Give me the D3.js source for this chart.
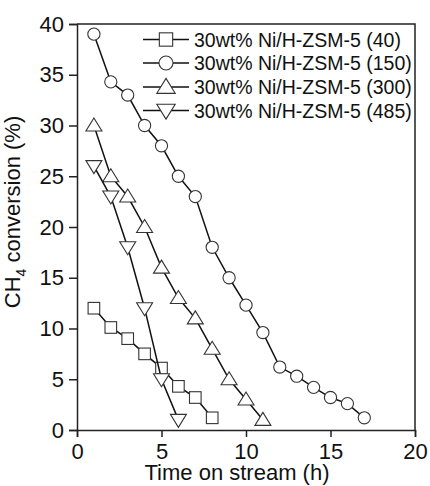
<!DOCTYPE html>
<html><head><meta charset="utf-8">
<script src="https://cdn.jsdelivr.net/npm/d3@7"></script>
<style>body{margin:0;background:#fff}svg{display:block}text{font-family:"Liberation Sans",Arial,sans-serif;fill:#111}</style>
</head><body>
<script>
const hours40 = [1,2,3,4,5,6,7,8];
const conv40 = [12.0,10.1,9.0,7.5,6.1,4.3,3.2,1.2];
const hours150 = [1,2,3,4,5,6,7,8,9,10,11,12,13,14,15,16,17];
const conv150 = [39.0,34.3,33.0,30.0,28.0,25.0,23.0,18.0,15.0,12.3,9.6,6.2,5.3,4.2,3.2,2.6,1.2];
const hours300 = [1,2,3,4,5,6,7,8,9,10,11];
const conv300 = [30.0,25.0,23.0,20.0,16.0,13.0,11.0,8.0,5.0,3.0,1.0];
const hours485 = [1,2,3,4,5,6];
const conv485 = [26.0,23.0,18.0,12.0,5.0,1.0];
const seriesNames = ["30wt% Ni/H-ZSM-5 (40)","30wt% Ni/H-ZSM-5 (150)","30wt% Ni/H-ZSM-5 (300)","30wt% Ni/H-ZSM-5 (485)"];
const xTicks = [0,5,10,15,20];
const yTicks = [0,5,10,15,20,25,30,35,40];

const W=430,H=486;
const m={l:77,r:15,t:24,b:56};
const svg=d3.select("body").append("svg").attr("width",W).attr("height",H);
const x=d3.scaleLinear().domain([0,20]).range([m.l,W-m.r]);
const y=d3.scaleLinear().domain([0,40]).range([H-m.b,m.t]);

const series=[
 {name:seriesNames[0],xs:hours40,ys:conv40,shape:"square"},
 {name:seriesNames[1],xs:hours150,ys:conv150,shape:"circle"},
 {name:seriesNames[2],xs:hours300,ys:conv300,shape:"up"},
 {name:seriesNames[3],xs:hours485,ys:conv485,shape:"down"}
];

svg.append("path").attr("d",`M${x(0)},${y(40)}H${x(20)}V${y(0)}`).attr("fill","none").attr("stroke","#222").attr("stroke-width",1.5);

const xa=svg.append("g").attr("transform",`translate(0,${y(0)})`).call(d3.axisBottom(x).tickValues(xTicks).tickSize(7).tickPadding(6));
const ya=svg.append("g").attr("transform",`translate(${x(0)},0)`).call(d3.axisLeft(y).tickValues(yTicks).tickSize(8).tickPadding(5));
[xa,ya].forEach(a=>{a.selectAll("path,line").attr("stroke","#222").attr("stroke-width",1.5);a.selectAll("text").attr("font-size",22).attr("fill","#111").attr("font-family","Liberation Sans, Arial, sans-serif");});

svg.append("text").attr("x",(x(0)+x(20))/2-9).attr("y",480).attr("text-anchor","middle").attr("font-size",22).text("Time on stream (h)");
const yt=svg.append("text").attr("transform",`translate(20,212) rotate(-90)`).attr("text-anchor","middle").attr("font-size",22);
yt.append("tspan").text("CH");
yt.append("tspan").attr("font-size",14).attr("dy",6).text("4");
yt.append("tspan").attr("dy",-6).text(" conversion (%)");

function marker(g,shape,cx,cy,k){
  let el;
  if(shape==="circle") el=g.append("circle").attr("cx",cx).attr("cy",cy).attr("r",6.1*k);
  else if(shape==="square") el=g.append("rect").attr("x",cx-5.8*k).attr("y",cy-5.8*k).attr("width",11.6*k).attr("height",11.6*k);
  else if(shape==="up") el=g.append("path").attr("d",`M${cx},${cy-7.5*k}L${cx+8*k},${cy+5.5*k}L${cx-8*k},${cy+5.5*k}Z`);
  else el=g.append("path").attr("d",`M${cx},${cy+7.5*k}L${cx+8*k},${cy-5.5*k}L${cx-8*k},${cy-5.5*k}Z`);
  el.attr("fill","#fff").attr("stroke","#333").attr("stroke-width",1.1);
}

const line=d3.line().x(d=>x(d[0])).y(d=>y(d[1]));
series.forEach(s=>{
  const pts=s.xs.map((v,i)=>[v,s.ys[i]]);
  svg.append("path").datum(pts).attr("d",line).attr("fill","none").attr("stroke","#111").attr("stroke-width",1.5);
  const g=svg.append("g");
  pts.forEach(p=>marker(g,s.shape,x(p[0]),y(p[1]),1));
});

const ly=[39.5,63,87,110.5];
series.forEach((s,i)=>{
  const g=svg.append("g");
  g.append("line").attr("x1",143).attr("x2",189).attr("y1",ly[i]).attr("y2",ly[i]).attr("stroke","#111").attr("stroke-width",1.5);
  marker(g,s.shape,166,ly[i],1.15);
  g.append("text").attr("x",194).attr("y",ly[i]+7).attr("font-size",19.5).text(s.name);
});
</script>
</body></html>
